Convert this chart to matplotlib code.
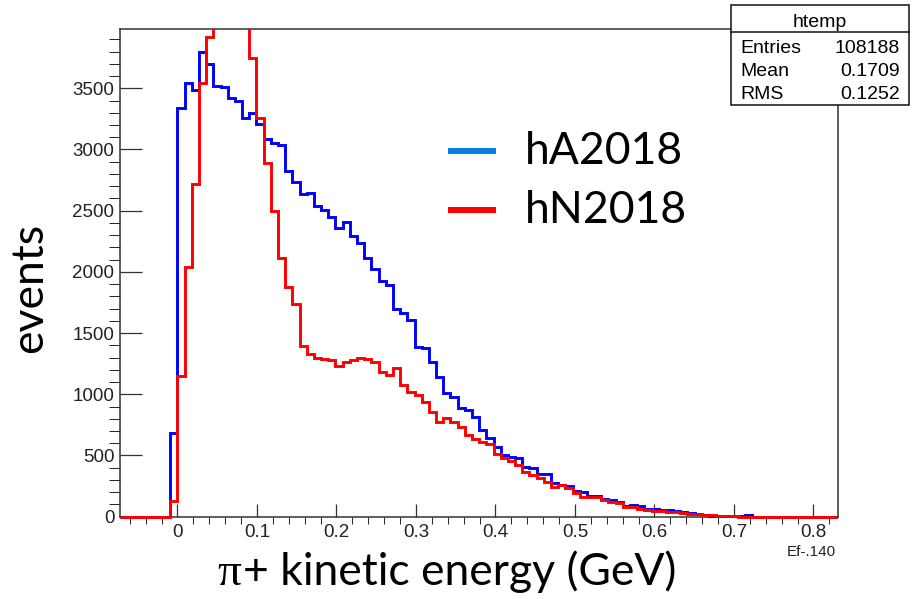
import numpy as np
import matplotlib
matplotlib.use('Agg')
from matplotlib import pyplot as plt
from matplotlib.patches import Rectangle
from matplotlib.lines import Line2D
from matplotlib.transforms import Bbox, TransformedBbox
from matplotlib.ticker import MultipleLocator

# pi+ kinetic energy, 100 bins of Ef-.140 (GeV)
XMIN, XMAX = -0.0723, 0.8312
NBINS = 100

hA2018 = [0, 0, 0, 0, 0, 0, 0, 680, 3337, 3541,
          3486, 3799, 3700, 3520, 3509, 3418, 3399, 3260, 3296, 3210,
          3085, 3056, 3033, 2822, 2735, 2635, 2642, 2536, 2506, 2451,
          2361, 2410, 2296, 2234, 2111, 2021, 1926, 1893, 1694, 1666,
          1604, 1389, 1376, 1266, 1144, 1008, 975, 885, 872, 817,
          708, 640, 572, 504, 490, 477, 408, 395, 346, 346,
          273, 259, 251, 212, 204, 172, 170, 147, 135, 118,
          85, 95, 88, 60, 60, 57, 52, 46, 41, 27,
          20, 14, 8, 8, 4, 3, 3, 14, 0, 0,
          0, 0, 0, 0, 0, 0, 0, 0, 0, 0]

hN2018 = [0, 0, 0, 0, 0, 0, 0, 131, 1150, 2043,
          2718, 3541, 3922, 4300, 4600, 4700, 4600, 4400, 3745, 3255,
          2891, 2495, 2113, 1874, 1738, 1392, 1329, 1300, 1290, 1280,
          1230, 1260, 1280, 1300, 1290, 1260, 1180, 1160, 1212, 1076,
          1021, 994, 940, 858, 776, 804, 776, 735, 667, 632,
          613, 594, 512, 477, 458, 422, 368, 341, 314, 286,
          245, 259, 232, 196, 163, 158, 158, 136, 123, 109,
          82, 77, 60, 55, 50, 45, 40, 35, 30, 25,
          20, 15, 12, 8, 5, 3, 0, 0, 0, 0,
          0, 0, 0, 0, 0, 0, 0, 0, 0, 0]

xticks = [0, 0.1, 0.2, 0.3, 0.4, 0.5, 0.6, 0.7, 0.8]
xticklabels = ['0', '0.1', '0.2', '0.3', '0.4', '0.5', '0.6', '0.7', '0.8']
yticks = [0, 500, 1000, 1500, 2000, 2500, 3000, 3500]

stats_rows = [('Entries', '108188'), ('Mean', '0.1709'), ('RMS', '0.1252')]

W, H = 915, 599
root_font = ['Liberation Sans', 'DejaVu Sans']
big_font = ['Lato', 'DejaVu Sans']


def fx(x):
    return x / W


def fy(y):
    return 1 - y / H


fig = plt.figure(figsize=(W / 100, H / 100), dpi=100)
ax = fig.add_axes([fx(120), fy(516.7), fx(838.3) - fx(120), fy(29.3) - fy(516.7)])

edges = np.linspace(XMIN, XMAX, NBINS + 1)
clip = TransformedBbox(Bbox([[0, -0.02], [1, 1]]), ax.transAxes)
for counts, color in [(hA2018, '#0000ff'), (hN2018, '#ff0000')]:
    st = ax.stairs(counts, edges, color=color, lw=2.1, zorder=3)
    st.set_clip_path(None)
    st.set_clip_box(clip)

ax.set_xlim(XMIN, XMAX)
ax.set_ylim(0, 3982)
ax.set_xticks(xticks)
ax.set_xticklabels(xticklabels)
ax.set_yticks(yticks)
ax.xaxis.set_minor_locator(MultipleLocator(0.02))
ax.yaxis.set_minor_locator(MultipleLocator(100))

for sp in ax.spines.values():
    sp.set_color('#333333')
    sp.set_linewidth(1.1)
ax.tick_params(direction='in', colors='#333333', width=0.9, labelcolor='#222222')
ax.tick_params(axis='x', which='major', length=9.5, pad=5)
ax.tick_params(axis='x', which='minor', length=5)
ax.tick_params(axis='y', which='major', length=16, pad=4)
ax.tick_params(axis='y', which='minor', length=8)
for lab in ax.get_xticklabels() + ax.get_yticklabels():
    lab.set_fontfamily(root_font)
    lab.set_fontsize(13.5)

fig.text(fx(836), fy(556), 'Ef-.140', ha='right', va='baseline',
         family=root_font, fontsize=11, color='#222222')

# axis titles
fig.text(fx(30), fy(288), 'events', rotation=90, ha='center', va='center',
         family=big_font, fontsize=32)
fig.text(fx(241), fy(585), 'π', ha='right', va='baseline',
         family=['Liberation Serif', 'DejaVu Serif'], fontsize=34)
fig.text(fx(243), fy(585), '+ kinetic energy (GeV)', ha='left', va='baseline',
         family=big_font, fontsize=32)

# legend
for y, color, name in [(151, '#0a7fe0', 'hA2018'), (210, '#ff0000', 'hN2018')]:
    fig.add_artist(Line2D([fx(448), fx(496)], [fy(y), fy(y)], color=color, lw=4.3,
                          solid_capstyle='butt'))
    fig.text(fx(525), fy(y + 12.5), name, ha='left', va='baseline',
             family=big_font, fontsize=32)

# stats box
bx0, bx1, by0, by1, bdiv = 731, 909, 5, 105, 31.5
fig.add_artist(Rectangle((fx(bx0), fy(by1)), fx(bx1) - fx(bx0), fy(by0) - fy(by1),
                         facecolor='white', edgecolor='#111111', lw=1.1, zorder=5))
fig.add_artist(Line2D([fx(bx0), fx(bx1)], [fy(bdiv), fy(bdiv)], color='#111111', lw=1.1, zorder=6))
fig.text(fx((bx0 + bx1) / 2), fy(26.7), 'htemp', ha='center', va='baseline',
         family=root_font, fontsize=14, zorder=7)
for i, (name, val) in enumerate(stats_rows):
    yb = 53.3 + i * 23
    fig.text(fx(740), fy(yb), name, ha='left', va='baseline', family=root_font, fontsize=14, zorder=7)
    fig.text(fx(900), fy(yb), val, ha='right', va='baseline', family=root_font, fontsize=14, zorder=7)

fig.savefig('out.png', dpi=100, facecolor='white')
